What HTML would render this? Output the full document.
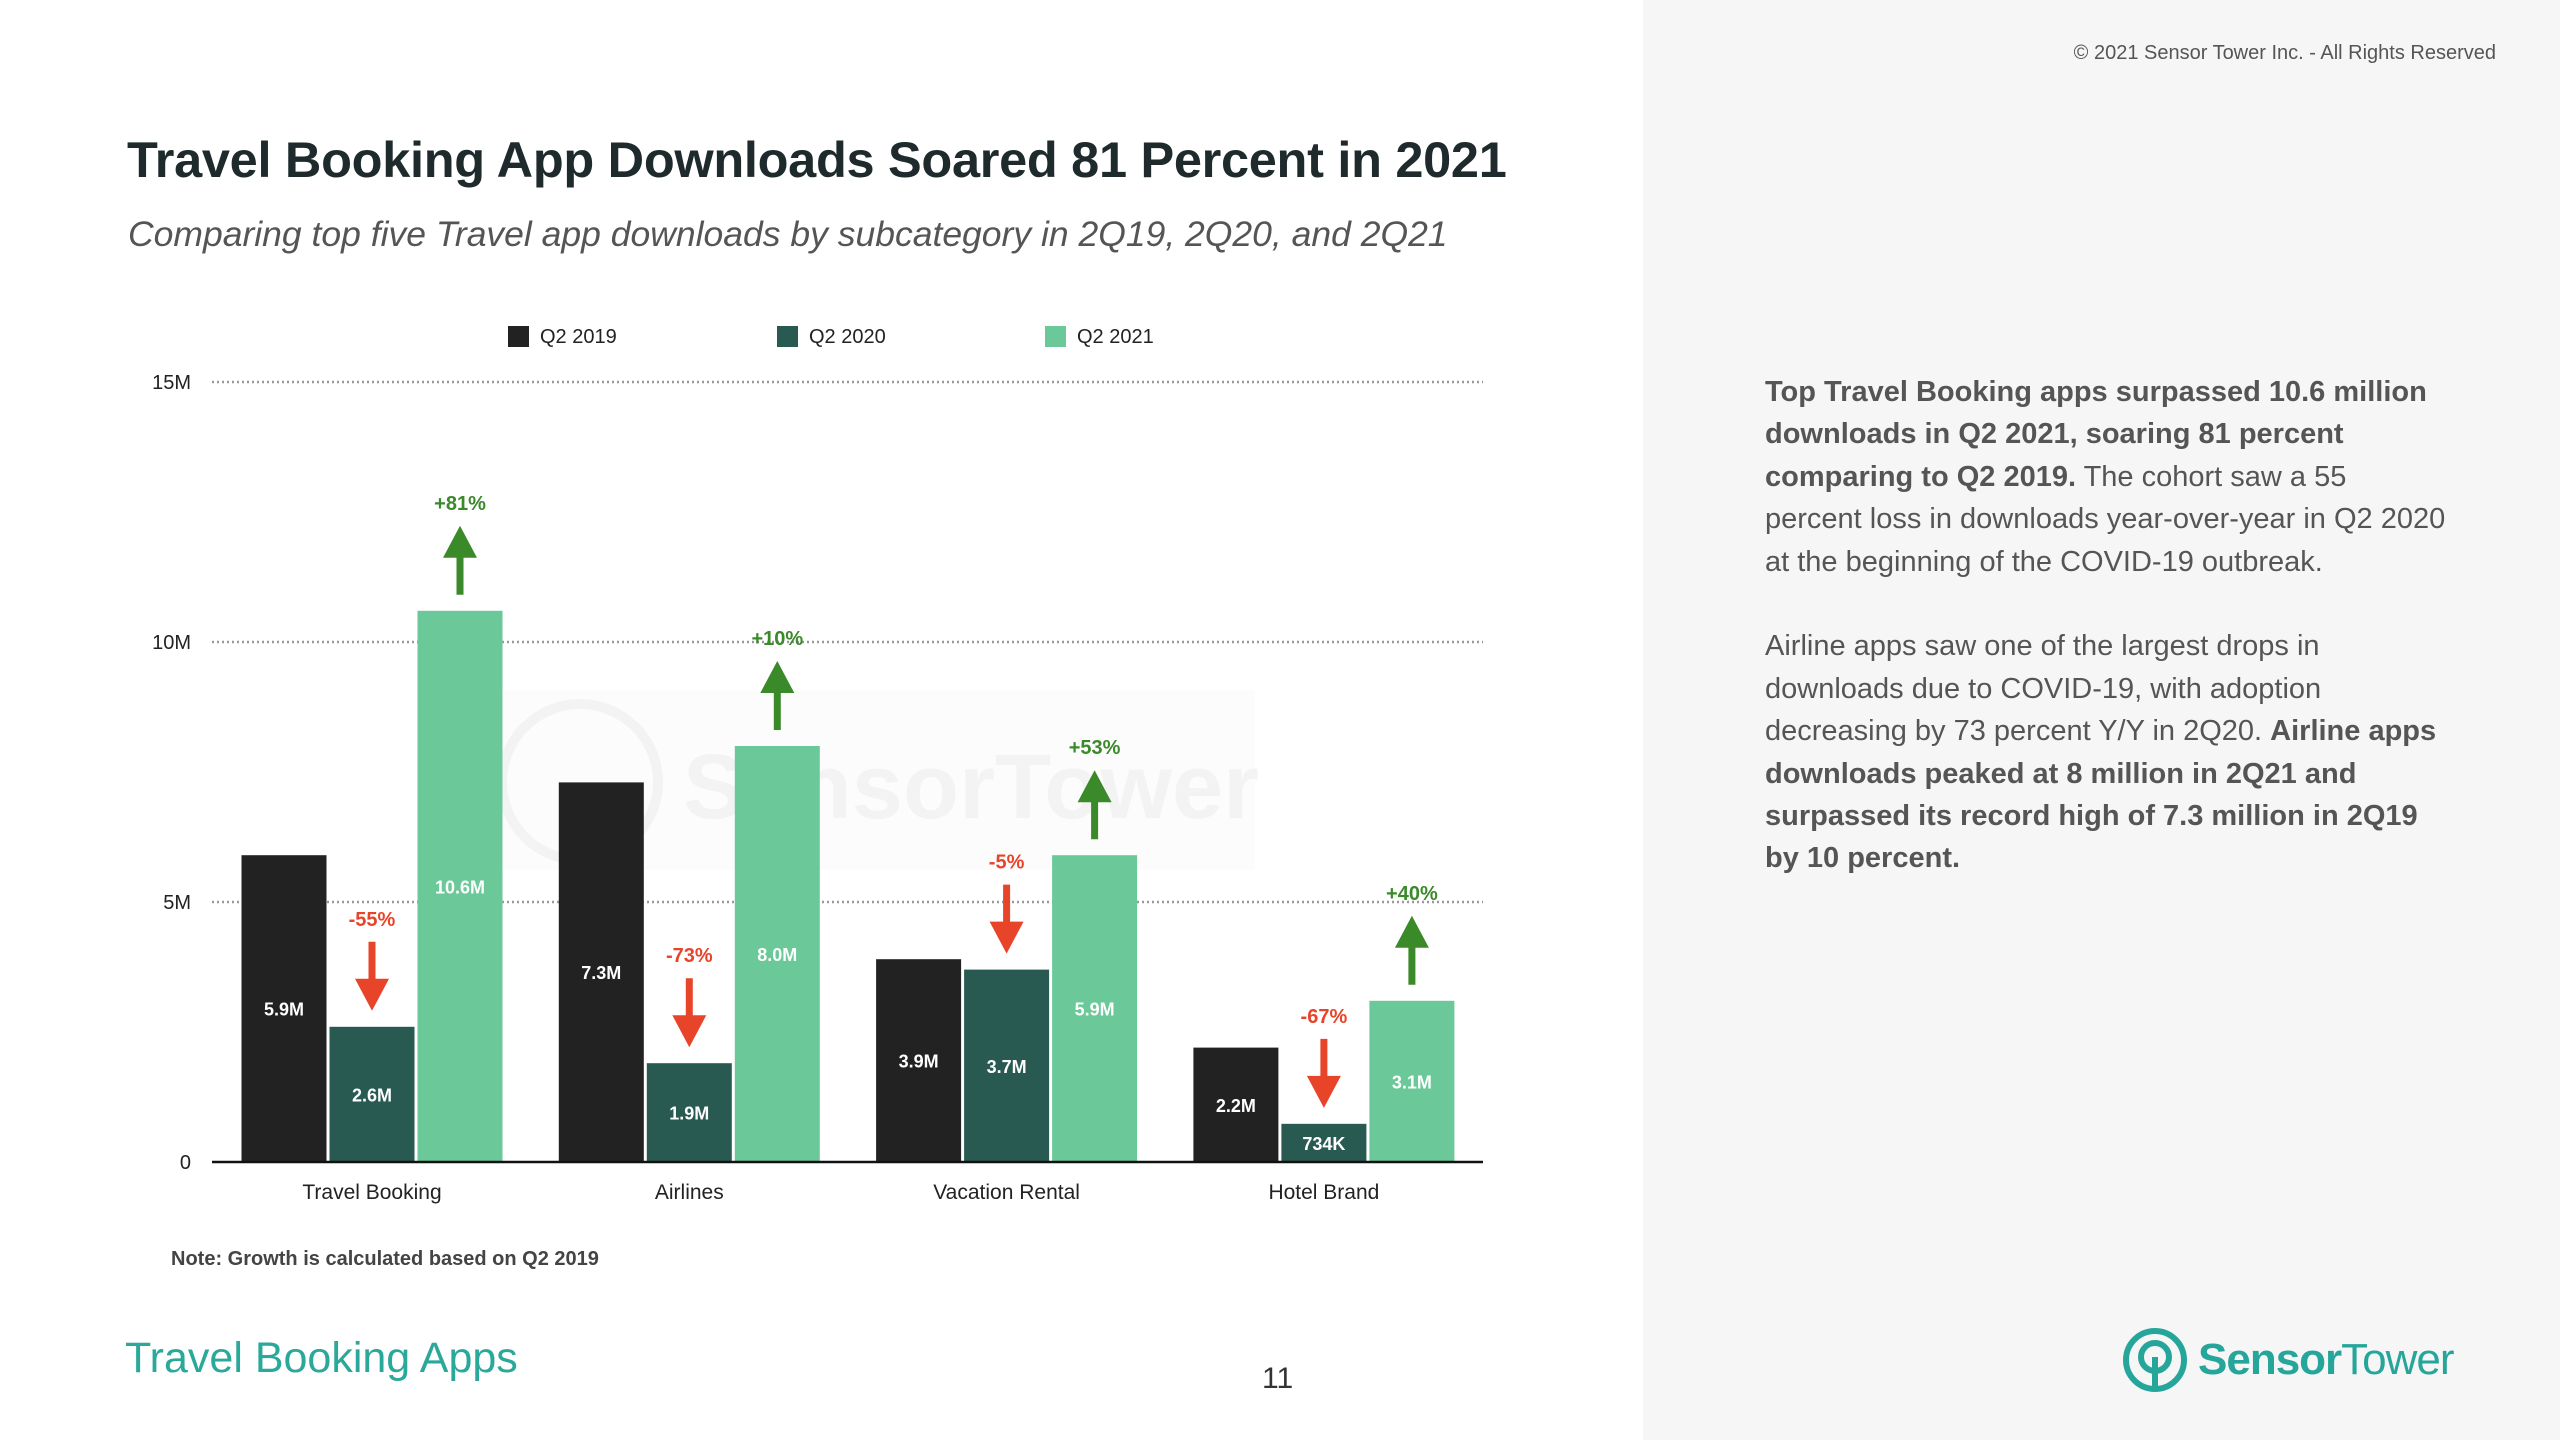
<!DOCTYPE html>
<html><head><meta charset="utf-8"><style>
html,body{margin:0;padding:0}
body{width:2560px;height:1440px;position:relative;background:#fff;font-family:"Liberation Sans",sans-serif;overflow:hidden}
.abs{position:absolute}
#right{left:1643px;top:0;width:917px;height:1440px;background:#f6f6f6}
</style></head><body>
<div id="right" class="abs"></div>
<div class="abs" style="right:64px;top:42px;font-size:20px;color:#555">© 2021 Sensor Tower Inc. - All Rights Reserved</div>
<div class="abs" style="left:127px;top:130px;font-size:50.5px;font-weight:bold;color:#1e2a2c;letter-spacing:-0.3px">Travel Booking App Downloads Soared 81 Percent in 2021</div>
<div class="abs" style="left:128px;top:214px;font-size:35.5px;font-style:italic;color:#555">Comparing top five Travel app downloads by subcategory in 2Q19, 2Q20, and 2Q21</div>
<div class="abs" style="left:1765px;top:371px;width:682px;font-size:29px;line-height:42.4px;color:#555">
<b>Top Travel Booking apps surpassed 10.6 million downloads in Q2 2021, soaring 81 percent comparing to Q2 2019.</b> The cohort saw a 55 percent loss in downloads year-over-year in Q2 2020 at the beginning of the COVID-19 outbreak.<br><br>Airline apps saw one of the largest drops in downloads due to COVID-19, with adoption decreasing by 73 percent Y/Y in 2Q20. <b>Airline apps downloads peaked at 8 million in 2Q21 and surpassed its record high of 7.3 million in 2Q19 by 10 percent.</b></div>
<div class="abs" style="left:171px;top:1248px;font-size:20px;font-weight:bold;color:#444">Note: Growth is calculated based on Q2 2019</div>
<div class="abs" style="left:125px;top:1334px;font-size:43px;color:#2aa89a">Travel Booking Apps</div>
<div class="abs" style="left:1262px;top:1362px;font-size:30px;color:#333">11</div>
<div class="abs" style="left:2122px;top:1325px;height:70px;display:flex;align-items:center">
<svg width="66" height="66" viewBox="0 0 66 66"><circle cx="33" cy="33" r="29" fill="none" stroke="#26a69a" stroke-width="6"/><circle cx="33" cy="30" r="14" fill="none" stroke="#26a69a" stroke-width="6"/><rect x="30" y="30" width="6" height="33" fill="#26a69a"/></svg>
<span style="font-size:44px;font-weight:bold;color:#26a69a;margin-left:10px;letter-spacing:-1px">Sensor</span><span style="font-size:44px;color:#26a69a;letter-spacing:-1px">Tower</span></div>
<svg id="chart" class="abs" style="left:0;top:0" width="1643" height="1300"></svg>
<script>
const categories=["Travel Booking","Airlines","Vacation Rental","Hotel Brand"];
const seriesNames=["Q2 2019","Q2 2020","Q2 2021"];
const q2019=[5.9,7.3,3.9,2.2];
const q2020=[2.6,1.9,3.7,0.734];
const q2021=[10.6,8.0,5.9,3.1];
const valueLabels2019=["5.9M","7.3M","3.9M","2.2M"];
const valueLabels2020=["2.6M","1.9M","3.7M","734K"];
const valueLabels2021=["10.6M","8.0M","5.9M","3.1M"];
const growth2020=["-55%","-73%","-5%","-67%"];
const growth2021=["+81%","+10%","+53%","+40%"];
const yTicks=[0,5,10,15];
const yTickLabels=["0","5M","10M","15M"];

const NS="http://www.w3.org/2000/svg";
const svg=document.getElementById('chart');
const x0=212,x1=1483,yBase=1162,yTop=382,yMax=15;
const y=v=>yBase-(v/yMax)*(yBase-yTop);
const groupCenter=i=>372+i*317.3;
const colors=["#222222","#285a52","#6bc999"];
function mk(tag,attrs,text){const e=document.createElementNS(NS,tag);for(const k in attrs)e.setAttribute(k,attrs[k]);if(text!==undefined)e.textContent=text;svg.appendChild(e);return e;}
// watermark
const wbg=mk('rect',{x:490,y:690,width:765,height:180,fill:'#fcfcfc'});


const wm=mk('text',{x:683,y:818,'font-size':92,'font-weight':'bold',fill:'#f3f3f3'},'SensorTower');


const wc=mk('circle',{cx:580,cy:782,r:78,fill:'none',stroke:'#f3f3f3','stroke-width':10});


// grid + ticks
yTicks.forEach((t,i)=>{
  if(t>0){const g=mk('line',{x1:x0,x2:x1,y1:y(t),y2:y(t),stroke:'#999','stroke-width':2.5,'stroke-dasharray':'2 3'});
  
  }
  const l=mk('text',{x:191,y:y(t)+7,'text-anchor':'end','font-size':20,fill:'#222'},yTickLabels[i]);
  
  
});
// legend
const legX=[508,777,1045];
seriesNames.forEach((n,i)=>{
  const r=mk('rect',{x:legX[i],y:326,width:21,height:21,fill:colors[i]});
  
  
  const t=mk('text',{x:legX[i]+32,y:343,'font-size':20,fill:'#222'},n);
  
  
});
const series=[q2019,q2020,q2021];
const vlabels=[valueLabels2019,valueLabels2020,valueLabels2021];
const bw=85,pitch=88;
function arrow(cx,top,up,color){
  const len=69,hw=17,hh=32,sw=7;
  let d;
  if(up){d=`M${cx},${top} L${cx+hw},${top+hh} L${cx+sw/2},${top+hh} L${cx+sw/2},${top+len} L${cx-sw/2},${top+len} L${cx-sw/2},${top+hh} L${cx-hw},${top+hh} Z`;}
  else{const b=top+len;d=`M${cx},${b} L${cx+hw},${b-hh} L${cx+sw/2},${b-hh} L${cx+sw/2},${top} L${cx-sw/2},${top} L${cx-sw/2},${b-hh} L${cx-hw},${b-hh} Z`;}
  return mk('path',{d:d,fill:color});
}
categories.forEach((c,i)=>{
  const gc=groupCenter(i);
  series.forEach((s,j)=>{
    const bx=gc+(j-1)*pitch-bw/2;
    const r=mk('rect',{x:bx,y:y(s[i]),width:bw,height:yBase-y(s[i]),fill:colors[j]});
    
    
    const t=mk('text',{x:bx+bw/2,y:(y(s[i])+yBase)/2+7,'text-anchor':'middle','font-size':18,'font-weight':'bold',fill:'#fff'},vlabels[j][i]);
    
    
  });
  [[1,growth2020,'#e8442a',false],[2,growth2021,'#3a8a2a',true]].forEach(([j,arr,col,up])=>{
    const cx=gc+(j-1)*pitch;
    const top=y(series[j][i]);
    const a=arrow(cx,top-85,up,col);
    
    
    const t=mk('text',{x:cx,y:top-101,'text-anchor':'middle','font-size':20,'font-weight':'bold',fill:col},arr[i]);
    
    
  });
  const cl=mk('text',{x:gc,y:1199,'text-anchor':'middle','font-size':21,fill:'#222'},c);
  
  
});
const ax=mk('line',{x1:x0,x2:x1,y1:yBase,y2:yBase,stroke:'#111','stroke-width':2.5});


</script>
</body></html>
